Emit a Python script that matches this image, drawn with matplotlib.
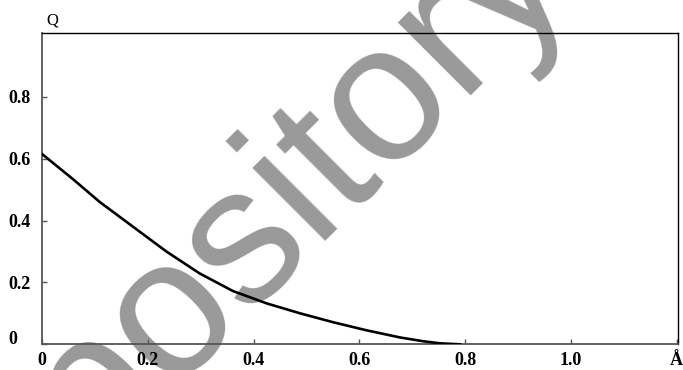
import numpy as np
import matplotlib
matplotlib.use("Agg")
from matplotlib import pyplot as plt
from matplotlib.transforms import ScaledTranslation

# curve
r = [0.0, 0.059, 0.109, 0.172, 0.235, 0.298, 0.361, 0.425, 0.488,
     0.551, 0.614, 0.677, 0.72, 0.753, 0.79]
q = [0.615, 0.533, 0.460, 0.380, 0.300, 0.229, 0.172, 0.132, 0.100,
     0.071, 0.045, 0.022, 0.010, 0.003, 0.0]

xticks = [0, 0.2, 0.4, 0.6, 0.8, 1.0, 1.2]
xlabels = ['0', '0.2', '0.4', '0.6', '0.8', '1.0', 'Å']
yticks = [0, 0.2, 0.4, 0.6, 0.8]
ylabels = ['0', '0.2', '0.4', '0.6', '0.8']

plt.rcParams['font.family'] = ['Liberation Serif', 'DejaVu Serif']

fig = plt.figure(figsize=(6.83, 3.70), dpi=100)
ax = fig.add_axes([0.0615, 0.0695, 0.9312, 0.8405])
ax.set_facecolor('none')

ax.plot(r, q, color='black', lw=1.9, zorder=3)

ax.set_xlim(0, 1.2024)
ax.set_ylim(0, 1.005)
ax.set_xticks(xticks, xlabels, fontsize=13, fontweight='bold')
ax.set_yticks(yticks, ylabels, fontsize=13, fontweight='bold')
ax.tick_params(axis='both', direction='in', length=3.6, width=1, color='#555555')
ax.tick_params(axis='x', pad=5.5)
ax.tick_params(axis='y', pad=24)
for lbl in ax.get_yticklabels():
    lbl.set_horizontalalignment('left')
# the "0" on the y axis sits a bit higher than its tick
lab0 = ax.yaxis.get_major_ticks()[0].label1
lab0.set_transform(lab0.get_transform() + ScaledTranslation(0, 5 / 72, fig.dpi_scale_trans))

for s in ['top', 'right']:
    ax.spines[s].set_color('black')
    ax.spines[s].set_linewidth(1)
for s in ['left', 'bottom']:
    ax.spines[s].set_color('#555555')
    ax.spines[s].set_linewidth(1.3)

fig.text(0.077, 0.945, 'Q', fontsize=12, ha='center', va='center')

# watermark
ax.text(0.397, 0.238, 'repository', transform=fig.transFigure, fontsize=140,
        family='Liberation Sans', color='#999999', rotation=45,
        rotation_mode='anchor', ha='center', va='baseline', zorder=0.5,
        clip_on=False)

fig.savefig('out.png', dpi=100)
